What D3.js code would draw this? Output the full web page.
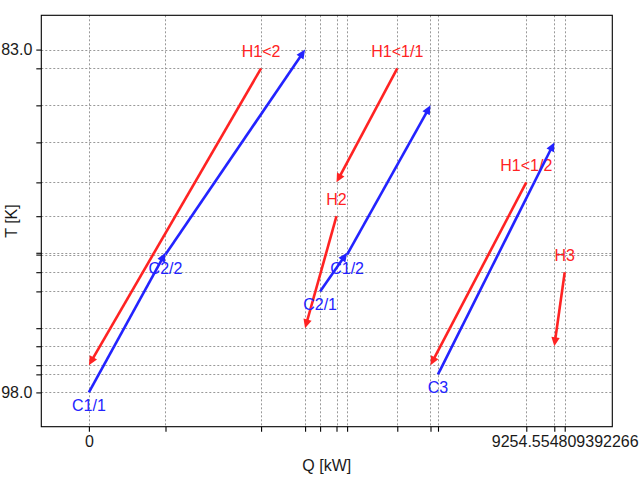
<!DOCTYPE html>
<html>
<head>
<meta charset="utf-8">
<script src="https://cdn.jsdelivr.net/npm/d3@7"></script>
<style>
  html, body { margin: 0; padding: 0; background: #fff; }
  svg text { font-family: "Liberation Sans", Arial, sans-serif; }
</style>
</head>
<body>
<div id="chart"></div>
<script>
// ---- data ----
const qTicks = [0, 1490, 3349, 4205, 4497, 4816, 5022, 5998, 6644, 6790, 8507, 9052, 9254.554809392266];
const qTickLabels = ["0", "", "", "", "", "", "", "", "", "", "", "", "9254.554809392266"];
const tTicks = [83.0, 83.82, 85.44, 87.06, 88.81, 90.29, 91.89, 91.97, 92.74, 93.58, 95.19, 95.98, 96.81, 97.21, 98.0];
const tTickLabels = ["83.0", "", "", "", "", "", "", "", "", "", "", "", "", "", "98.0"];

const streamNames = ["H1<2", "C1/1", "C2/2", "H1<1/1", "H2", "C2/1", "C1/2", "H1<1/2", "C3", "H3"];
const streamKinds = ["hot", "cold", "cold", "hot", "hot", "cold", "cold", "hot", "cold", "hot"];
const qStart = [3349, 0, 1490, 5998, 4816, 4497, 5022, 8507, 6790, 9254.554809392266];
const qEnd   = [0, 1490, 4205, 4816, 4205, 5022, 6644, 6644, 9052, 9052];
const tStart = [83.82, 98.0, 91.97, 83.82, 90.29, 93.58, 91.97, 88.81, 97.21, 92.74];
const tEnd   = [96.81, 91.89, 83.0, 88.81, 95.19, 91.89, 85.44, 96.81, 87.06, 95.98];

const xLabel = "Q [kW]";
const yLabel = "T [K]";

(function () {
// ---- layout ----
const W = 640, H = 480;
const pl = 41.3, pr = 612.3, pt = 15.3, pb = 426.7;
const colors = { hot: "#ff2323", cold: "#2323ff" };

const qMax = d3.max(qStart.concat(qEnd));
const qMin = d3.min(qStart.concat(qEnd));
const qPad = (qMax - qMin) * 0.1;
const tMax = d3.max(tTicks), tMin = d3.min(tTicks);
const tPad = (tMax - tMin) * 0.1;

const x = d3.scaleLinear().domain([qMin - qPad, qMax + qPad]).range([pl, pr]);
const y = d3.scaleLinear().domain([tMin - tPad, tMax + tPad]).range([pt, pb]);

const svg = d3.select("#chart").append("svg")
  .attr("width", W).attr("height", H)
  .attr("viewBox", `0 0 ${W} ${H}`);

// grid
const grid = svg.append("g").attr("stroke", "#999").attr("stroke-width", 1)
  .attr("stroke-dasharray", "2,2").attr("fill", "none");
grid.selectAll("line.vx").data(qTicks).join("line").attr("class", "vx")
  .attr("x1", d => Math.round(x(d)) + 0.5).attr("x2", d => Math.round(x(d)) + 0.5)
  .attr("y1", pt).attr("y2", pb);
grid.selectAll("line.hy").data(tTicks).join("line").attr("class", "hy")
  .attr("y1", d => Math.round(y(d)) + 0.5).attr("y2", d => Math.round(y(d)) + 0.5)
  .attr("x1", pl).attr("x2", pr);

// axes
const xAxis = d3.axisBottom(x).tickValues(qTicks)
  .tickFormat((d, i) => qTickLabels[i]).tickSizeInner(5).tickSizeOuter(0).tickPadding(4);
const yAxis = d3.axisLeft(y).tickValues(tTicks)
  .tickFormat((d, i) => tTickLabels[i]).tickSizeInner(5).tickSizeOuter(0).tickPadding(4);

const gx = svg.append("g").attr("transform", `translate(0,${pb})`).call(xAxis);
const gy = svg.append("g").attr("transform", `translate(${pl},0)`).call(yAxis);
[gx, gy].forEach(g => {
  g.select(".domain").remove();
  g.selectAll(".tick line").attr("stroke", "#000").attr("stroke-width", 1.1);
  g.selectAll(".tick text").attr("font-size", 16).attr("fill", "#1a1a1a")
    .attr("font-family", "Liberation Sans, Arial, sans-serif");
});

// frame
svg.append("rect").attr("x", pl).attr("y", pt)
  .attr("width", pr - pl).attr("height", pb - pt)
  .attr("fill", "none").attr("stroke", "#000").attr("stroke-width", 1.1);

// axis labels
svg.append("text").attr("x", (pl + pr) / 2).attr("y", 471)
  .attr("text-anchor", "middle").attr("font-size", 16).attr("fill", "#1a1a1a").text(xLabel);
svg.append("text").attr("transform", `translate(17,${(pt + pb) / 2}) rotate(-90)`)
  .attr("text-anchor", "middle").attr("font-size", 16).attr("fill", "#1a1a1a").text(yLabel);

// arrows
const streams = streamNames.map((n, i) => ({
  name: n, kind: streamKinds[i], q0: qStart[i], q1: qEnd[i], t0: tStart[i], t1: tEnd[i]
}));

const headLen = 9, headHalf = 4.2;
const ga = svg.append("g");
streams.forEach(s => {
  const x0 = x(s.q0), y0 = y(s.t0), x1 = x(s.q1), y1 = y(s.t1);
  const dx = x1 - x0, dy = y1 - y0, L = Math.hypot(dx, dy);
  const ux = dx / L, uy = dy / L;
  const bx = x1 - ux * headLen, by = y1 - uy * headLen;
  const c = colors[s.kind];
  ga.append("line").attr("x1", x0).attr("y1", y0).attr("x2", bx + ux).attr("y2", by + uy)
    .attr("stroke", c).attr("stroke-width", 2.6);
  ga.append("path")
    .attr("d", `M${x1},${y1}L${bx - uy * headHalf},${by + ux * headHalf}L${bx + uy * headHalf},${by - ux * headHalf}Z`)
    .attr("fill", c);
  const isHot = s.kind === "hot";
  ga.append("text").attr("x", x0).attr("y", isHot ? y0 - 11 : y0 + 19)
    .attr("text-anchor", "middle").attr("font-size", 16).attr("fill", c).text(s.name);
});
})();
</script>
</body>
</html>
